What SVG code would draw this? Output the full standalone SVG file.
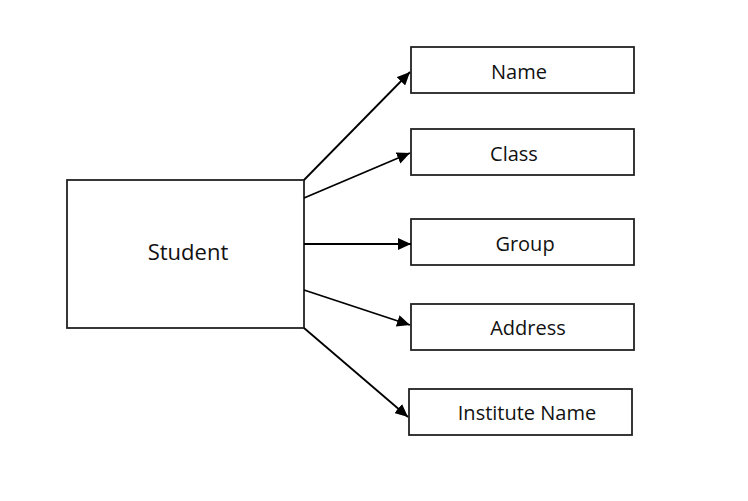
<svg xmlns="http://www.w3.org/2000/svg" width="748" height="501" viewBox="0 0 748 501">
<defs>
<marker id="arr" markerUnits="userSpaceOnUse" markerWidth="14" markerHeight="12" refX="13" refY="6" orient="auto">
<path d="M0,0 L13,6 L0,12 Z" fill="#000"/>
</marker>
<style>
.box{fill:#fff;stroke:#222;stroke-width:1.8}
.lbl{font-family:"Open Sans","Noto Sans",sans-serif;font-size:20px;fill:#111;text-anchor:middle}
.big{font-size:22px}
.con{stroke:#000;stroke-width:1.8;fill:none;marker-end:url(#arr)}
</style>
</defs>
<rect width="748" height="501" fill="#fff"/>
<g id="student"><rect class="box" x="67" y="180" width="237" height="148"/><text class="lbl big" x="188" y="260">Student</text></g>
<g id="name"><rect class="box" x="411" y="47" width="223" height="46"/><text class="lbl" x="519" y="79">Name</text></g>
<g id="class"><rect class="box" x="411" y="129" width="223" height="46"/><text class="lbl" x="514" y="161">Class</text></g>
<g id="group"><rect class="box" x="411" y="219" width="223" height="46"/><text class="lbl" x="525" y="251">Group</text></g>
<g id="address"><rect class="box" x="411" y="304" width="223" height="46"/><text class="lbl" x="528" y="335">Address</text></g>
<g id="institute"><rect class="box" x="409" y="389" width="223" height="46"/><text class="lbl" x="527" y="420">Institute Name</text></g>
<g id="connectors">
<line class="con" x1="304" y1="180" x2="410" y2="72"/>
<line class="con" x1="304" y1="198" x2="410" y2="153"/>
<line class="con" x1="304" y1="244" x2="411" y2="244"/>
<line class="con" x1="304" y1="290" x2="410" y2="325"/>
<line class="con" x1="304" y1="328" x2="408" y2="417"/>
</g>
</svg>
